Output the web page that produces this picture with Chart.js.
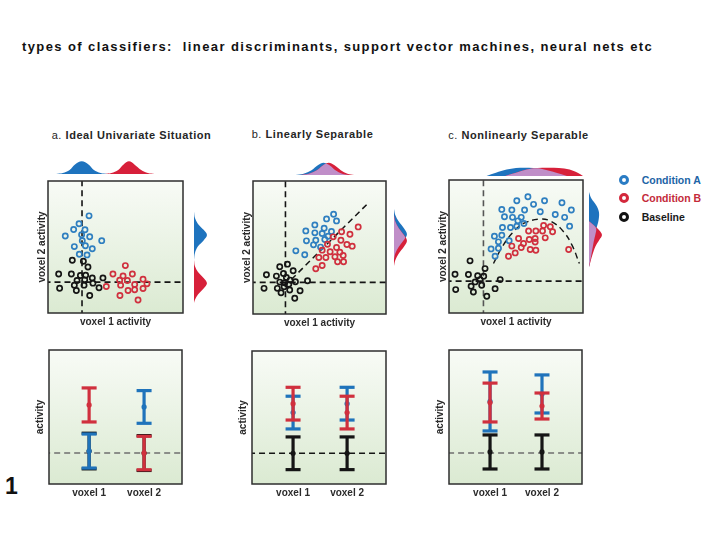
<!DOCTYPE html>
<html>
<head>
<meta charset="utf-8">
<script src="https://cdn.jsdelivr.net/npm/chart.js@4.4.1/dist/chart.umd.min.js"></script>
<style>
body { margin:0; background:#fff; }
#page { position:relative; width:720px; height:540px; overflow:hidden; font-family:"Liberation Sans", Arial, sans-serif; }
#fig { position:absolute; left:0; top:0; width:720px; height:497px; overflow:hidden; }
canvas { position:absolute; }
#title { position:absolute; left:22px; top:39px; font-size:13px; line-height:15px; font-weight:bold; letter-spacing:1.4px; color:#111; white-space:nowrap; }
.ptitle { position:absolute; font-size:11px; line-height:12px; font-weight:bold; color:#262626; letter-spacing:0.55px; white-space:nowrap; }
.ptitle span { font-weight:normal; }
.leg { position:absolute; left:641.7px; font-size:10.5px; line-height:12px; font-weight:bold; white-space:nowrap; }
.ring { position:absolute; width:10px; height:10px; box-sizing:border-box; border:3.3px solid; border-radius:50%; }
#fignum { position:absolute; left:5px; top:473px; font-size:23px; line-height:26px; font-weight:bold; color:#111; }
</style>
</head>
<body>
<div id="page">
  <div id="title">types of classifiers:&nbsp; linear discriminants, support vector machines, neural nets etc</div>
  <div id="fig">
    <div class="ptitle" style="left:51.7px;top:128.8px"><span>a.</span> Ideal Univariate Situation</div>
    <div class="ptitle" style="left:251.7px;top:127.8px"><span>b.</span> Linearly Separable</div>
    <div class="ptitle" style="left:448.3px;top:128.8px"><span>c.</span> Nonlinearly Separable</div>

    <canvas id="topA" width="135" height="16" style="left:48px;top:158px"></canvas>
    <canvas id="sideA" width="16" height="132" style="left:194px;top:181px"></canvas>
    <canvas id="topB" width="133" height="16" style="left:253px;top:159px"></canvas>
    <canvas id="sideB" width="16" height="133" style="left:394px;top:181px"></canvas>
    <canvas id="topC" width="134" height="16" style="left:449px;top:160px"></canvas>
    <canvas id="sideC" width="16" height="133" style="left:589px;top:180px"></canvas>

    <canvas id="scatA" width="153" height="151" style="left:32px;top:179px"></canvas>
    <canvas id="scatB" width="151" height="152" style="left:237px;top:179px"></canvas>
    <canvas id="scatC" width="152" height="152" style="left:433px;top:178px"></canvas>

    <canvas id="barA" width="153" height="154" style="left:31px;top:348px"></canvas>
    <canvas id="barB" width="154" height="153" style="left:234px;top:349px"></canvas>
    <canvas id="barC" width="153" height="154" style="left:431px;top:348px"></canvas>

    <span class="ring" style="left:619.3px;top:175px;border-color:#2a7cc4"></span>
    <span class="ring" style="left:619.3px;top:192.7px;border-color:#d3283c"></span>
    <span class="ring" style="left:619.3px;top:211.7px;border-color:#111"></span>
    <div class="leg" style="top:174.4px;color:#2164a6">Condition A</div>
    <div class="leg" style="top:192.4px;color:#c42a3a">Condition B</div>
    <div class="leg" style="top:211px;color:#1a1a1a">Baseline</div>

    <div id="fignum">1</div>
  </div>
</div>
<script>
// scatter points [voxel 1, voxel 2]
var aBlue = [[3.04,7.36],[2.30,6.76],[1.90,6.33],[2.74,6.31],[1.28,5.83],[2.49,5.93],[3.09,5.78],[3.98,5.48],[1.95,5.03],[2.54,5.48],[2.77,5.10],[3.28,4.87],[2.32,4.45],[2.89,4.40]];
var aRed = [[5.73,3.59],[4.81,2.96],[5.56,2.81],[6.25,2.96],[5.31,2.49],[5.88,2.46],[7.04,2.56],[4.32,2.01],[5.38,2.11],[6.42,2.16],[7.33,2.21],[7.04,1.86],[5.93,1.71],[6.42,1.76],[5.33,1.33],[6.67,0.98]];
var aBase = [[1.80,4.00],[2.62,3.92],[2.96,3.49],[0.79,2.96],[1.73,2.96],[2.40,2.84],[2.79,2.86],[3.28,2.66],[4.07,2.66],[2.15,2.46],[2.72,2.51],[1.95,2.11],[2.67,2.11],[3.33,2.26],[3.78,1.91],[0.86,1.88],[2.10,1.71],[3.09,1.33]];
var aCut = [2.52, 2.34];

var bBlue = [[6.06,7.50],[5.53,7.15],[6.28,7.00],[4.65,6.70],[3.97,6.25],[5.35,6.45],[4.65,6.10],[5.20,6.05],[5.90,6.20],[4.02,5.50],[4.72,5.55],[5.40,5.60],[5.65,5.85],[4.55,5.20],[5.08,5.03],[3.22,4.75],[3.89,4.45]];
var bRed = [[7.91,6.55],[6.66,6.18],[7.29,6.00],[6.03,5.80],[6.61,5.55],[7.06,5.23],[7.46,5.10],[5.60,5.25],[6.28,5.00],[5.20,4.80],[5.80,4.68],[6.53,4.65],[6.78,4.40],[4.95,4.25],[5.48,4.25],[6.16,4.30],[6.36,3.93],[6.81,3.93],[5.20,3.65],[4.72,3.40]];
var bBase = [[2.01,3.55],[2.59,3.75],[3.02,3.25],[1.01,2.95],[1.76,2.85],[2.29,3.05],[2.51,2.75],[2.79,2.55],[2.01,2.40],[2.39,2.35],[2.69,2.23],[3.19,2.43],[4.10,2.50],[0.83,1.93],[1.83,1.93],[2.34,2.05],[2.11,1.60],[2.76,1.80],[3.54,1.75],[3.14,1.18]];
var bCut = [2.44, 2.38];
var bBoundary = [[2.89,2.60],[8.67,8.35]];

var cBlue = [[5.89,8.74],[5.06,8.44],[7.13,8.44],[8.43,8.29],[6.31,8.17],[3.94,7.79],[4.69,7.74],[5.64,7.74],[9.13,7.74],[4.14,7.24],[4.74,7.19],[5.39,7.19],[6.81,7.61],[7.93,7.41],[8.63,7.19],[5.14,6.93],[3.99,6.43],[4.59,6.43],[5.06,6.53],[5.59,6.73],[9.00,6.53],[3.39,5.78],[3.94,5.85],[4.49,5.43],[3.69,5.35],[3.14,4.82],[3.69,4.87],[3.44,4.27]];
var cRed = [[7.06,6.58],[7.56,6.48],[6.48,6.16],[6.98,6.16],[7.73,6.11],[5.94,6.16],[5.19,5.60],[5.99,5.53],[6.43,5.60],[7.18,5.65],[5.56,5.23],[6.43,5.33],[4.69,5.03],[5.39,4.92],[6.06,4.77],[6.48,4.72],[8.93,4.77],[4.94,4.52],[4.44,4.27]];
var cBase = [[1.57,3.92],[2.69,3.34],[0.45,2.91],[1.45,2.89],[2.14,2.81],[2.59,2.76],[2.32,2.51],[1.95,2.34],[3.82,2.51],[1.65,2.01],[2.44,2.09],[3.44,1.83],[0.50,1.76],[1.82,1.58],[2.82,1.26]];
var cCut = [2.57, 2.39];
var cBoundary = [[3.32,3.72],[3.94,4.92],[4.69,5.98],[5.56,6.73],[6.81,7.06],[7.68,6.86],[8.55,6.11],[9.18,5.10],[9.73,3.72]];

// marginal distributions: top = [voxel 1, height], side = [height, voxel 2]
var aTopBlue = [[0.6,0],[1.1,0.06],[1.6,0.25],[2.0,0.6],[2.5,0.79],[3.0,0.6],[3.4,0.25],[3.9,0.06],[4.4,0]];
var aTopRed = [[4.2,0],[4.7,0.06],[5.2,0.25],[5.6,0.6],[6.0,0.79],[6.4,0.6],[6.9,0.25],[7.4,0.06],[7.9,0]];
var aSideBlue = [[0,7.67],[0.06,7.2],[0.25,6.75],[0.6,6.3],[0.81,5.91],[0.6,5.5],[0.25,5.05],[0.06,4.55],[0,4.02]];
var aSideRed = [[0,4.02],[0.06,3.55],[0.25,3.1],[0.6,2.65],[0.81,2.25],[0.6,1.85],[0.25,1.4],[0.06,1.0],[0,0.76]];

var bTopBlue = [[3.2,0],[3.8,0.08],[4.4,0.3],[4.9,0.62],[5.3,0.77],[5.7,0.62],[6.2,0.3],[6.7,0.08],[7.2,0]];
var bTopRed = [[3.6,0],[4.2,0.08],[4.8,0.3],[5.3,0.62],[5.7,0.77],[6.1,0.62],[6.6,0.3],[7.1,0.08],[7.6,0]];
var bTopBoth = [[3.6,0],[4.2,0.08],[4.8,0.3],[5.2,0.56],[5.5,0.7],[5.8,0.58],[6.2,0.3],[6.7,0.08],[7.2,0]];
var bSideBlue = [[0,7.9],[0.08,7.45],[0.3,6.95],[0.62,6.45],[0.81,6.0],[0.62,5.55],[0.3,5.05],[0.08,4.55],[0,4.1]];
var bSideRed = [[0,7.4],[0.08,6.95],[0.3,6.45],[0.62,5.95],[0.81,5.5],[0.62,5.05],[0.3,4.55],[0.08,4.05],[0,3.6]];
var bSideBoth = [[0,7.4],[0.08,6.95],[0.3,6.45],[0.58,6.0],[0.7,5.75],[0.58,5.5],[0.3,5.05],[0.08,4.55],[0,4.1]];

var cTopBlue = [[2.8,0],[3.5,0.2],[4.3,0.4],[5.0,0.5],[5.6,0.52],[6.3,0.5],[7.1,0.4],[8.0,0.2],[8.8,0]];
var cTopRed = [[4.2,0],[5.0,0.2],[5.8,0.4],[6.6,0.5],[7.4,0.52],[8.2,0.5],[9.0,0.4],[9.6,0.2],[10,0]];
var cTopBoth = [[4.2,0],[5.0,0.2],[5.8,0.4],[6.2,0.47],[6.5,0.49],[6.8,0.47],[7.1,0.4],[8.0,0.2],[8.8,0]];
var cSideBlue = [[0,9.1],[0.15,8.6],[0.45,8.1],[0.62,7.6],[0.6,7.0],[0.45,6.3],[0.3,5.4],[0.15,4.4],[0,3.46]];
var cSideRed = [[0,6.9],[0.3,6.6],[0.65,6.2],[0.81,5.86],[0.65,5.5],[0.4,5.0],[0.22,4.4],[0.1,3.9],[0,3.46]];
var cSideBoth = [[0,6.9],[0.3,6.6],[0.45,6.35],[0.4,5.9],[0.3,5.4],[0.15,4.4],[0,3.46]];

// bottom row: mean activity and error per voxel
var voxelPos = [1, 2];
var voxelLabels = ['voxel 1', 'voxel 2'];
var baseLevel = 2.31;

var aMeanA = [2.46, 5.75], aErrA = [1.27, 1.22];
var aMeanB = [5.90, 2.31], aErrB = [1.27, 1.25];
var aMeanBase = [2.46, 2.31], aErrBase = [1.33, 1.30];

var bMeanA = [5.37, 6.04], bErrA = [1.23, 1.23];
var bMeanB = [6.04, 5.37], bErrB = [1.23, 1.23];
var bMeanBase = [2.31, 2.31], bErrBase = [1.23, 1.23];

var cMeanA = [6.16, 6.72], cErrA = [2.20, 1.42];
var cMeanB = [6.08, 5.82], cErrB = [1.45, 0.97];
var cMeanBase = [2.39, 2.39], cErrBase = [1.27, 1.27];

var colA = '#2f7fc0', colB = '#d0303e', colBase = '#151515';
var fillA = 'rgb(30,115,190)', fillB = 'rgb(215,32,58)', fillBoth = 'rgb(192,142,200)';

Chart.defaults.font.family = '"Liberation Sans", Arial, sans-serif';
Chart.defaults.color = '#2b2b2b';
Chart.defaults.animation = false;
Chart.defaults.responsive = false;
Chart.defaults.events = [];
Chart.defaults.plugins.legend.display = false;
Chart.defaults.plugins.tooltip.enabled = false;

function pts(list) {
    return list.map(function(p) { return {x: p[0], y: p[1]}; });
}

// green panel background + frame
var panelBox = {
    id: 'panelBox',
    beforeDatasetsDraw: function(chart) {
        var a = chart.chartArea, c = chart.ctx;
        var g = c.createLinearGradient(0, a.top, 0, a.bottom);
        g.addColorStop(0, '#f8fbf6');
        g.addColorStop(1, '#dbead2');
        c.save();
        c.fillStyle = g;
        c.fillRect(a.left, a.top, a.right - a.left, a.bottom - a.top);
        c.restore();
    },
    afterDatasetsDraw: function(chart) {
        var a = chart.chartArea, c = chart.ctx;
        c.save();
        c.strokeStyle = '#2e2e2e';
        c.lineWidth = 1.5;
        c.strokeRect(a.left, a.top, a.right - a.left, a.bottom - a.top);
        c.restore();
    }
};

function rings(list, color) {
    return {data: pts(list), pointStyle: 'circle', pointRadius: 2.6, pointBorderWidth: 1.7,
        borderColor: color, backgroundColor: 'rgba(0,0,0,0)', showLine: false};
}

function dashed(list, color, width, tension) {
    return {data: pts(list), showLine: true, borderColor: color, borderWidth: width,
        borderDash: [6, 4], pointRadius: 0, fill: false, tension: tension || 0};
}

function cutLines(cut, color) {
    return [
        dashed([[cut[0], -1], [cut[0], 11]], color, 1.6),
        dashed([[-1, cut[1]], [11, cut[1]]], '#151515', 1.7)
    ];
}

function axisTitle(text, pad) {
    return {display: true, text: text, font: {size: 10, weight: 'bold'}, color: '#2b2b2b', padding: pad};
}

function scatterPanel(id, sets) {
    return new Chart(document.getElementById(id), {
        type: 'scatter',
        data: {datasets: sets.reverse()},
        options: {
            layout: {padding: {top: 2, right: 2, left: 0, bottom: 0}, autoPadding: false},
            scales: {
                x: {min: 0, max: 10, ticks: {display: false}, grid: {display: false, drawTicks: false},
                    border: {display: false}, title: axisTitle('voxel 1 activity', {top: 3, bottom: 2})},
                y: {min: 0, max: 10, ticks: {display: false}, grid: {display: false, drawTicks: false},
                    border: {display: false}, title: axisTitle('voxel 2 activity', {top: 4, bottom: 0})}
            }
        },
        plugins: [panelBox]
    });
}

function strip(id, side, shapes) {
    var sets = shapes.map(function(s) {
        return {data: pts(s[0]), showLine: true, fill: 'shape', backgroundColor: s[1],
            borderWidth: 0, pointRadius: 0, tension: 0.35};
    });
    return new Chart(document.getElementById(id), {
        type: 'scatter',
        data: {datasets: sets.reverse()},
        options: {
            layout: {padding: 0, autoPadding: false},
            scales: {
                x: {display: false, min: 0, max: side ? 1 : 10},
                y: {display: false, min: 0, max: side ? 10 : 1}
            }
        }
    });
}

function errorSets(means, errs, color) {
    var stem = [], caps = [], mids = [];
    voxelPos.forEach(function(v, i) {
        stem.push({x: v, y: means[i] - errs[i]}, {x: v, y: means[i] + errs[i]}, {x: v, y: null});
        caps.push({x: v, y: means[i] - errs[i]}, {x: v, y: means[i] + errs[i]});
        mids.push({x: v, y: means[i]});
    });
    return [
        {data: stem, showLine: true, borderColor: color, borderWidth: 3.2, pointRadius: 0, spanGaps: false},
        {data: caps, showLine: false, pointStyle: 'line', pointRadius: 7.5, pointBorderWidth: 3.2, borderColor: color},
        {data: mids, showLine: false, pointStyle: 'circle', pointRadius: 2.6, pointBorderWidth: 0,
            borderColor: color, backgroundColor: color}
    ];
}

function barPanel(id, xMin, xMax, lineColor, groups) {
    var sets = [dashed([[0, baseLevel], [3, baseLevel]], lineColor, 1.5)];
    groups.forEach(function(g) { sets = sets.concat(errorSets(g[0], g[1], g[2])); });
    return new Chart(document.getElementById(id), {
        type: 'scatter',
        data: {datasets: sets.reverse()},
        options: {
            layout: {padding: {top: 2, right: 2, left: 0, bottom: 0}, autoPadding: false},
            scales: {
                x: {min: xMin, max: xMax, grid: {display: false, drawTicks: false}, border: {display: false},
                    afterBuildTicks: function(axis) {
                        axis.ticks = voxelPos.map(function(v) { return {value: v}; });
                    },
                    ticks: {padding: 3, font: {size: 10, weight: 'bold'}, color: '#2b2b2b', autoSkip: false,
                        maxRotation: 0,
                        callback: function(value) { return voxelLabels[voxelPos.indexOf(value)]; }}},
                y: {min: 0, max: 10, ticks: {display: false}, grid: {display: false, drawTicks: false},
                    border: {display: false}, title: axisTitle('activity', {top: 3, bottom: 3})}
            }
        },
        plugins: [panelBox]
    });
}

// marginals
strip('topA', false, [[aTopBlue, fillA], [aTopRed, fillB]]);
strip('sideA', true, [[aSideBlue, fillA], [aSideRed, fillB]]);
strip('topB', false, [[bTopBlue, fillA], [bTopRed, fillB], [bTopBoth, fillBoth]]);
strip('sideB', true, [[bSideBlue, fillA], [bSideRed, fillB], [bSideBoth, fillBoth]]);
strip('topC', false, [[cTopBlue, fillA], [cTopRed, fillB], [cTopBoth, fillBoth]]);
strip('sideC', true, [[cSideBlue, fillA], [cSideRed, fillB], [cSideBoth, fillBoth]]);

// scatter panels
scatterPanel('scatA', cutLines(aCut, '#151515').concat([rings(aBase, colBase), rings(aBlue, colA), rings(aRed, colB)]));
scatterPanel('scatB', cutLines(bCut, '#151515').concat([dashed(bBoundary, '#151515', 1.5),
    rings(bBase, colBase), rings(bBlue, colA), rings(bRed, colB)]));
scatterPanel('scatC', cutLines(cCut, '#555').concat([dashed(cBoundary, '#151515', 1.4, 0.4),
    rings(cBase, colBase), rings(cBlue, colA), rings(cRed, colB)]));

// activity panels
barPanel('barA', 0.27, 2.69, '#6f6f6f', [[aMeanBase, aErrBase, colBase], [aMeanA, aErrA, '#1f73bb'], [aMeanB, aErrB, colB]]);
barPanel('barB', 0.24, 2.72, '#151515', [[bMeanBase, bErrBase, colBase], [bMeanA, bErrA, '#1f73bb'], [bMeanB, bErrB, colB]]);
barPanel('barC', 0.21, 2.77, '#6f6f6f', [[cMeanBase, cErrBase, colBase], [cMeanA, cErrA, '#1f73bb'], [cMeanB, cErrB, colB]]);
</script>
</body>
</html>
